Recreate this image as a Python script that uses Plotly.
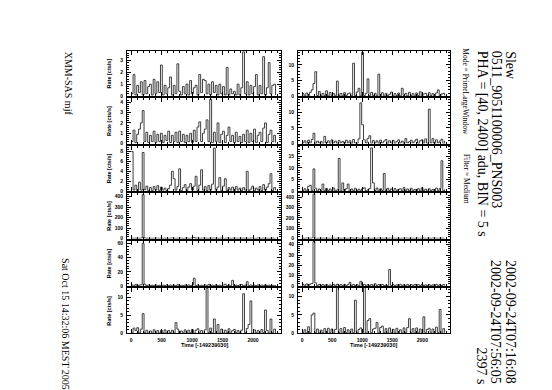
import plotly.graph_objects as go

W, H = 552, 390

# time grid (s, offset -149239030), 30 s steps
T = list(range(0, 2400, 30))

# ---- left column light curves ----
L1 = [0.2,1.8,0.1,0.9,0.3,1.2,0.1,1.3,0.2,0.8,
      1.0,0.1,1.4,0.2,1.2,0.3,2.6,0.1,0.9,0.2,
      0.7,1.6,0.1,0.9,0.2,2.7,0.4,0.1,0.8,0.2,
      1.0,0.1,1.3,0.2,0.7,0.9,0.1,1.8,0.3,1.4,
      1.3,0.2,1.0,0.1,1.2,0.3,0.9,0.1,1.0,0.2,
      0.8,0.1,2.4,0.1,0.6,0.2,0.4,0.1,1.0,0.1,
      0.7,3.7,0.2,1.2,0.1,0.9,0.2,0.8,1.8,0.1,
      0.9,0.2,3.3,0.1,0.7,2.8,0.2,0.9,1.0,0.1]
L2 = [0.2,1.3,0.1,0.9,1.4,2.0,3.2,0.2,1.1,0.1,
      0.8,0.2,1.2,0.1,0.9,0.2,1.0,0.1,0.8,0.3,
      1.2,0.1,0.8,0.2,1.1,0.1,1.2,0.2,0.9,0.1,
      0.8,0.2,1.0,0.1,1.3,0.2,1.6,2.1,0.2,1.0,
      1.4,2.3,0.2,4.3,0.1,1.1,0.2,2.0,0.1,0.9,
      1.2,0.1,0.8,1.6,0.2,0.8,0.1,1.1,0.2,0.7,
      0.1,0.9,0.2,1.3,0.1,1.0,0.2,1.4,0.1,0.8,
      1.1,0.2,1.5,2.0,0.1,0.9,1.3,0.2,0.8,0.1]
L3 = [8.0,0.2,1.2,0.1,1.8,0.2,7.8,0.3,1.0,0.1,
      0.7,0.1,0.9,0.2,1.1,0.1,0.8,0.2,0.6,0.1,
      0.5,1.2,4.0,2.5,0.2,0.9,4.5,0.1,0.7,1.3,
      0.1,0.8,1.5,0.2,1.0,3.0,0.1,1.2,4.3,0.2,
      0.9,0.1,1.1,0.2,1.4,8.7,0.2,0.8,2.7,0.1,
      1.0,2.5,0.1,0.7,0.2,0.8,0.1,0.9,0.2,0.6,
      0.1,0.7,0.2,4.0,0.1,0.4,1.0,0.1,0.6,0.2,
      0.9,0.1,1.3,0.2,0.8,1.5,3.5,0.1,0.7,0.2]
L4 = [3,2,4,2,3,5,420,6,3,2,
      2,3,2,4,3,2,3,2,4,3,
      2,3,4,2,3,2,3,4,2,3,
      4,2,3,5,9,4,3,2,3,4,
      2,3,2,4,3,5,2,3,2,4,
      3,2,4,3,2,3,4,2,3,2,
      3,4,2,3,2,4,3,2,3,4,
      2,3,4,2,3,2,3,4,2,3]
L5 = [1.5,0.3,2.0,0.4,1.2,1.8,60,2.5,0.3,1.4,
      0.3,1.2,0.4,1.5,0.3,1.0,0.4,1.3,0.3,1.6,
      0.4,1.4,0.3,1.2,0.4,1.8,0.3,1.0,0.4,1.3,
      0.3,1.5,0.4,1.2,11,0.4,1.4,0.3,1.1,0.4,
      1.6,0.3,2.2,0.4,1.3,0.3,1.7,0.4,1.1,0.3,
      1.2,2.5,0.3,1.5,0.4,8.0,0.3,1.3,0.4,1.6,
      2.0,0.3,1.1,6.0,0.4,1.4,0.3,1.2,0.4,1.5,
      0.3,1.3,0.4,1.6,0.3,1.2,0.4,1.0,0.3,1.4]
L6 = [0.2,1.5,0.8,1.6,0.1,1.2,5.5,0.2,0.9,0.1,
      0.7,0.1,1.0,0.2,0.8,0.1,0.9,0.2,1.0,0.1,
      0.8,0.2,0.9,0.1,3.0,1.2,0.1,0.7,0.2,1.0,
      0.1,0.9,0.2,1.1,0.1,0.9,1.3,0.2,0.8,0.1,
      1.0,12.5,0.2,1.5,0.1,4.0,0.2,2.5,0.1,1.2,
      0.1,0.9,0.2,1.3,0.1,0.8,1.1,0.2,0.8,0.1,
      0.9,11.0,0.2,1.4,2.5,9.0,0.1,1.0,0.2,0.8,
      0.1,1.1,0.2,6.5,0.8,0.1,4.0,0.2,1.2,0.1]

# ---- right column light curves ----
R1 = [0.8,0.1,1.0,0.2,1.2,2.0,4.0,7.8,0.2,1.5,
      0.1,0.9,0.2,1.7,0.1,1.2,0.2,0.8,0.1,4.8,
      0.2,0.9,0.1,1.1,0.2,0.8,1.0,0.1,10.5,0.2,
      1.3,2.5,0.1,14.0,0.2,0.9,5.5,0.1,1.2,0.2,
      0.9,0.1,7.0,0.2,1.1,0.1,0.9,0.2,0.6,1.3,
      0.1,0.8,0.2,1.0,0.1,2.5,0.2,0.9,0.1,1.2,
      0.2,0.8,0.1,1.0,0.2,1.4,0.1,0.7,0.9,0.1,
      1.1,0.2,0.8,0.1,1.0,2.0,0.1,0.7,0.9,0.2]
R2 = [0.2,0.9,0.1,1.1,0.2,1.3,3.3,0.1,0.8,0.2,
      0.7,0.1,2.3,0.2,0.9,0.1,1.2,0.2,0.8,0.1,
      1.0,0.2,0.7,0.1,1.1,0.2,0.9,0.1,1.3,0.2,
      0.1,1.5,13.0,6.0,1.2,0.2,1.6,2.5,0.1,1.0,
      0.2,0.9,0.1,1.1,0.2,0.8,1.3,0.1,0.9,0.2,
      1.0,0.1,0.7,1.2,0.2,0.8,0.1,1.6,0.2,0.6,
      1.1,0.2,0.8,1.4,0.1,0.9,1.2,0.2,1.5,0.1,
      11.0,0.2,1.6,0.1,1.2,0.2,0.8,1.4,0.1,0.9]
R3 = [0.2,1.0,0.1,2.0,2.5,0.2,9.5,1.2,0.1,0.9,
      0.2,3.0,0.1,1.1,0.2,0.9,0.1,1.3,0.2,0.5,
      14.0,0.1,3.5,0.2,1.0,3.0,0.1,0.9,0.2,1.2,
      0.1,0.8,0.2,1.0,1.4,0.1,0.5,1.1,18.5,3.5,
      0.2,1.3,0.1,1.0,0.2,7.5,0.1,1.2,0.2,0.9,
      0.1,1.1,0.2,0.7,1.0,0.1,1.5,0.2,0.9,0.1,
      1.2,0.1,0.7,0.2,1.0,0.1,1.4,0.2,0.8,0.1,
      1.0,0.2,0.7,0.1,1.3,0.2,1.1,13.0,0.1,0.7]
R4 = [3,2,4,3,2,5,430,4,2,3,
      2,4,3,2,3,2,4,3,2,3,
      3,2,3,4,2,3,2,5,3,2,
      4,3,2,6,3,2,4,3,2,3,
      2,3,4,2,3,2,3,2,4,3,
      3,2,3,4,2,3,2,3,4,2,
      2,3,2,3,4,2,3,4,2,3,
      3,2,4,2,3,3,2,4,3,2]
R5 = [1.5,0.3,2.0,0.4,1.8,2.5,43,3.0,0.3,1.6,
      0.3,1.4,0.4,1.3,0.3,1.1,0.4,1.5,0.3,1.7,
      0.4,1.4,0.3,1.6,0.4,1.3,3.5,0.3,1.5,0.4,
      1.2,0.3,4.5,0.4,1.6,0.3,1.3,0.4,1.5,0.3,
      2.2,0.4,1.4,0.3,1.6,0.4,1.0,0.3,16,0.4,
      1.3,0.3,1.1,0.4,1.6,0.3,1.3,0.4,1.5,0.3,
      1.4,0.4,1.6,0.3,1.3,0.4,1.5,0.3,1.2,0.4,
      1.3,0.3,1.1,0.4,1.6,0.3,1.4,0.4,1.5,0.3]
R6 = [0.2,1.0,0.1,1.8,0.2,5.0,5.5,0.2,1.2,0.1,
      0.9,0.2,1.3,0.1,1.4,0.2,1.2,0.1,1.1,12.5,
      0.2,1.3,0.1,1.6,0.2,1.0,0.1,1.2,0.2,9.0,
      0.1,1.1,1.5,0.2,12.5,0.1,3.5,4.0,0.2,1.2,
      1.4,3.0,0.1,1.6,2.0,0.2,1.3,0.1,1.5,0.2,
      1.1,0.1,1.4,0.2,1.0,0.1,1.5,0.2,1.6,4.0,
      0.2,1.3,0.1,1.5,0.2,1.2,0.1,4.5,0.2,1.1,
      1.4,0.2,1.2,0.1,1.7,0.2,6.5,0.1,1.3,0.2]

LEFT = [L1, L2, L3, L4, L5, L6]
RIGHT = [R1, R2, R3, R4, R5, R6]
Y_RANGE_L = [[0, 3.8], [0, 4.4], [0, 9.2], [0, 435], [0, 64], [0, 12.6]]
Y_DTICK_L = [1, 1, 2, 100, 20, 5]
Y_RANGE_R = [[0, 14.5], [0, 14.5], [0, 19.5], [0, 440], [0, 44], [0, 12.3]]
Y_DTICK_R = [5, 5, 5, 100, 10, 5]
X_RANGE = [-70, 2460]

Y_TITLE = "Rate [cts/s]"
X_TITLE = "Time [-149239030]"
HEADER = ["Slew", "0511_9051100006_PNS003", "PHA = [40, 2400] adu, BIN = 5 s"]
MODE_TXT = "Mode = PrimeLargeWindow"
FILTER_TXT = "Filter = Medium"
DATES = ["2002-09-24T07:16:08", "2002-09-24T07:56:05", "2397 s"]
SIDE_L = ["XMM-SAS mjf", "Sat Oct 15 14:32:06 MEST 2005"]


def px(x):
    return x / W


def py(y):
    return 1 - y / H


fig = go.Figure()
layout = {}
top, bot, gap = 43, 328, 2
h = (bot - top - 5 * gap) / 6
xdom = [[px(119), px(273)], [px(290), px(442)]]
tickfont = dict(family="Liberation Sans", size=5, color="black", weight="bold")
annotations = []

for r in range(6):
    y0 = top + r * (h + gap)
    y1 = y0 + h
    ydom = [py(y1), py(y0)]
    for c in range(2):
        n = r * 2 + c + 1
        sfx = "" if n == 1 else str(n)
        vals = LEFT[r] if c == 0 else RIGHT[r]
        yr = Y_RANGE_L[r] if c == 0 else Y_RANGE_R[r]
        dt = Y_DTICK_L[r] if c == 0 else Y_DTICK_R[r]
        fig.add_trace(go.Scatter(
            x=T, y=vals, mode="lines",
            line=dict(shape="hv", color="#2a2a2a", width=0.9),
            xaxis="x" + sfx, yaxis="y" + sfx,
            showlegend=False, hoverinfo="skip"))
        layout["xaxis" + sfx] = dict(
            domain=xdom[c], range=X_RANGE, anchor="y" + sfx,
            showline=True, linecolor="black", linewidth=1, mirror="allticks",
            ticks="inside", ticklen=4, tickwidth=1, tickcolor="black",
            tick0=0, dtick=500,
            minor=dict(dtick=100, ticks="inside", ticklen=2, tickcolor="black", showgrid=False),
            showgrid=False, zeroline=False,
            showticklabels=(r == 5), tickfont=tickfont, ticklabelstandoff=2)
        layout["yaxis" + sfx] = dict(
            domain=ydom, range=yr, anchor="x" + sfx,
            showline=True, linecolor="black", linewidth=1, mirror="allticks",
            ticks="inside", ticklen=4, tickwidth=1, tickcolor="black",
            tick0=0, dtick=dt,
            minor=dict(dtick=dt / 5, ticks="inside", ticklen=2, tickcolor="black", showgrid=False),
            showgrid=False, zeroline=False,
            showticklabels=True, tickfont=tickfont, ticklabelstandoff=2)
    annotations.append(dict(
        text=Y_TITLE, x=px(101), y=py((y0 + y1) / 2), xref="paper", yref="paper",
        textangle=-90, showarrow=False, xanchor="center", yanchor="middle",
        font=dict(family="Liberation Sans", size=5.5, color="black", weight="bold")))

for cx in [196, 366]:
    annotations.append(dict(
        text=X_TITLE, x=px(cx), y=py(340), xref="paper", yref="paper",
        showarrow=False, xanchor="center", yanchor="middle",
        font=dict(family="Liberation Sans", size=5.5, color="black", weight="bold")))

serif = "Liberation Serif"
for txt, xx in zip(HEADER, [503, 488, 474]):
    annotations.append(dict(
        text=txt, x=px(xx), y=py(41), xref="paper", yref="paper",
        textangle=90, showarrow=False, xanchor="center", yanchor="top",
        font=dict(family=serif, size=14, color="black")))
annotations.append(dict(
    text=MODE_TXT, x=px(458), y=py(38), xref="paper", yref="paper",
    textangle=90, showarrow=False, xanchor="center", yanchor="top",
    font=dict(family=serif, size=7.5, color="black")))
annotations.append(dict(
    text=FILTER_TXT, x=px(458), y=py(145), xref="paper", yref="paper",
    textangle=90, showarrow=False, xanchor="center", yanchor="top",
    font=dict(family=serif, size=7.5, color="black")))
for txt, xx in zip(DATES, [503, 488, 473]):
    annotations.append(dict(
        text=txt, x=px(xx), y=py(381), xref="paper", yref="paper",
        textangle=90, showarrow=False, xanchor="center", yanchor="bottom",
        font=dict(family=serif, size=14, color="black")))
annotations.append(dict(
    text=SIDE_L[0], x=px(60), y=py(42), xref="paper", yref="paper",
    textangle=90, showarrow=False, xanchor="center", yanchor="top",
    font=dict(family=serif, size=10, color="black")))
annotations.append(dict(
    text=SIDE_L[1], x=px(58), y=py(250), xref="paper", yref="paper",
    textangle=90, showarrow=False, xanchor="center", yanchor="top",
    font=dict(family=serif, size=10, color="black")))

fig.update_layout(
    width=W, height=H, margin=dict(l=0, r=0, t=0, b=0),
    paper_bgcolor="white", plot_bgcolor="white",
    annotations=annotations, **layout)

fig.write_html("out.html")
